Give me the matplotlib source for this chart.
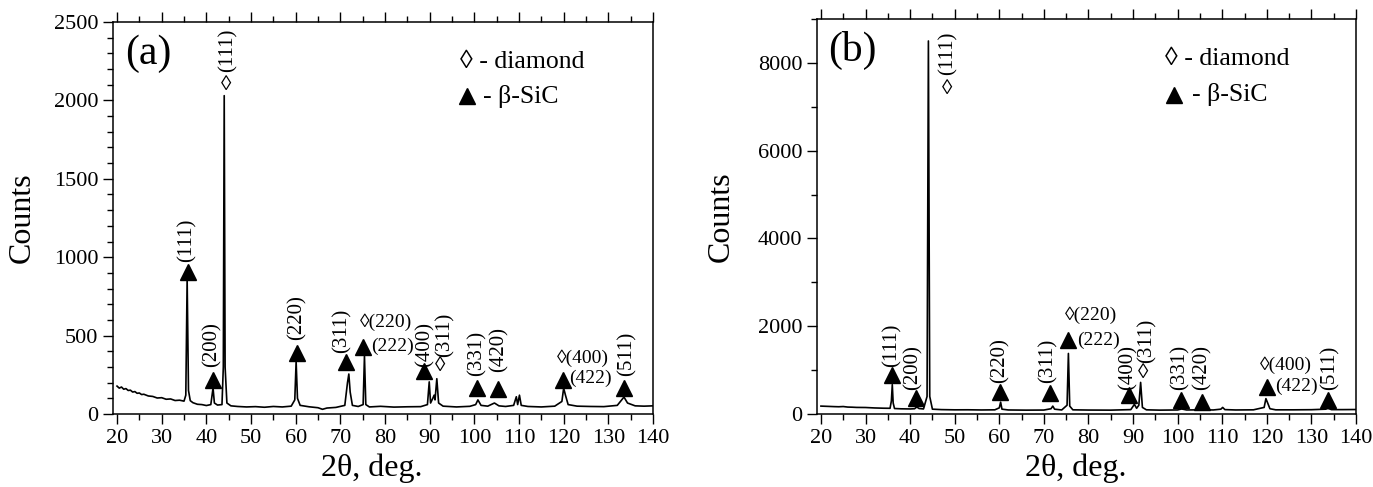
import numpy as np
import matplotlib
matplotlib.use("Agg")
import matplotlib.pyplot as plt

plt.rcParams['font.family'] = ['Liberation Serif', 'DejaVu Serif']

# ---- pattern (a): 2theta / counts ----
tt_a = [20.0, 20.5, 21.0, 21.5, 22.0, 22.5, 23.0, 23.5, 24.0, 24.5, 25.0, 25.5, 26.0, 27.0, 28.0,
        29.0, 30.0, 31.0, 32.0, 33.0, 34.0, 35.0, 35.4, 35.7, 36.0, 36.4, 37.0, 38.0, 39.0,
        40.0, 41.0, 41.5, 41.8, 42.5, 43.5, 43.8, 44.0, 44.2, 44.6, 45.5, 47.0, 49.0, 51.0,
        53.0, 55.0, 57.0, 59.0, 59.8, 60.1, 60.4, 61.0, 63.0, 65.0, 66.0, 67.0, 69.0, 71.0,
        71.6, 71.9, 72.2, 72.7, 74.0, 75.1, 75.4, 75.7, 76.5, 79.0, 82.0, 85.0, 88.0, 89.5,
        89.9, 90.2, 90.7, 91.0, 91.2, 91.6, 92.0, 93.0, 96.0, 99.0, 100.3, 100.8, 101.5, 103.0,
        104.5, 105.5, 107.0, 108.8, 109.4, 109.7, 110.1, 110.5, 112.0, 115.0, 118.0, 119.6,
        120.0, 120.4, 121.0, 123.0, 126.0, 129.0, 132.0, 133.5, 134.3, 136.0, 138.0, 140.0]
cnt_a = [178, 165, 172, 158, 162, 150, 152, 140, 143, 132, 134, 124, 126, 115, 112,
         102, 104, 94, 96, 86, 88, 82, 120, 860, 150, 85, 72, 62, 60,
         54, 60, 166, 70, 57, 60, 300, 2030, 300, 70, 52, 48, 45, 47,
         43, 48, 45, 50, 90, 335, 100, 55, 46, 40, 30, 38, 42, 55,
         200, 255, 140, 55, 48, 60, 370, 60, 45, 49, 44, 46, 47, 60,
         205, 70, 100, 120, 90, 225, 70, 50, 45, 49, 60, 90, 55, 50,
         70, 52, 48, 55, 110, 60, 120, 55, 48, 45, 50, 80,
         165, 120, 60, 50, 48, 47, 55, 108, 70, 52, 50, 52]

# ---- pattern (b) ----
tt_b = [20.0, 21.0, 22.0, 23.0, 24.0, 25.0, 26.0, 27.0, 28.0, 30.0, 32.0, 34.0, 35.5, 35.8,
        36.0, 36.2, 36.5, 38.0, 40.0, 41.0, 41.5, 42.0, 43.0, 43.8, 44.1, 44.4, 45.0, 47.0,
        50.0, 53.0, 56.0, 59.0, 60.0, 60.3, 60.6, 62.0, 66.0, 70.0, 71.6, 72.0, 72.4, 74.0,
        75.2, 75.5, 75.8, 76.5, 80.0, 85.0, 89.5, 90.3, 90.8, 91.3, 91.7, 92.1, 93.0, 96.0,
        100.0, 100.9, 102.0, 105.0, 108.0, 109.7, 110.1, 110.6, 113.0, 117.0, 119.4, 119.8,
        120.2, 120.7, 122.0, 126.0, 130.0, 133.2, 133.7, 134.5, 137.0, 140.0]
cnt_b = [180, 176, 172, 168, 165, 170, 158, 155, 150, 148, 138, 132, 130, 300,
         670, 250, 125, 118, 115, 120, 160, 125, 115, 400, 8500, 400, 110, 100,
         95, 96, 92, 95, 140, 270, 110, 92, 88, 90, 120, 180, 110, 92,
         200, 1380, 180, 95, 90, 88, 100, 220, 130, 200, 720, 150, 95, 88,
         92, 115, 92, 95, 92, 110, 150, 100, 92, 95, 150, 350,
         250, 120, 95, 95, 98, 110, 130, 100, 100, 102]

# ---- peak markers: beta-SiC triangles ----
tri_a_x = [35.8, 41.6, 60.4, 71.2, 75.1, 88.7, 100.7, 105.4, 119.9, 133.5]
tri_a_y = [908, 217, 391, 333, 430, 276, 164, 157, 217, 164]
tri_b_x = [35.9, 41.3, 60.2, 71.4, 75.5, 89.2, 100.8, 105.4, 120.0, 133.8]
tri_b_y = [889, 357, 508, 471, 1686, 433, 319, 281, 623, 319]

# vertical hkl labels (text, x, y of label bottom)
vlab_a = [("(111)", 35.6, 969), ("(200)", 41.2, 300), ("(220)", 60.2, 472),
          ("(311)", 70.3, 389), ("(400)", 88.9, 302), ("(331)", 100.6, 242),
          ("(420)", 105.6, 268), ("(511)", 134.1, 245),
          ("(111)", 44.8, 2181), ("(311)", 93.4, 365)]
vlab_b = [("(111)", 35.9, 1078), ("(200)", 40.7, 547), ("(220)", 60.2, 706),
          ("(311)", 71.0, 706), ("(400)", 88.9, 547), ("(331)", 100.5, 547),
          ("(420)", 105.4, 547), ("(511)", 134.2, 547),
          ("(111)", 48.6, 7726), ("(311)", 93.1, 1162)]

# horizontal labels (text, x left, y center)
hlab_a = [("\u25ca(220)", 74.4, 584), ("(222)", 76.9, 430),
          ("\u25ca(400)", 118.5, 357), ("(422)", 121.3, 230)]
hlab_b = [("\u25ca(220)", 74.7, 2256), ("(222)", 77.4, 1686),
          ("\u25ca(400)", 118.5, 1117), ("(422)", 121.8, 623)]

# lone diamond symbols
dia_a = [(44.4, 2098), (92.3, 302)]
dia_b = [(48.2, 7384), (92.3, 927)]


def draw(ax, tt, cnt, tri_x, tri_y, vlab, hlab, dia, ymax, ymaj, ymin, tag, leg):
    ax.plot(tt, cnt, color='black', lw=1.2)
    ax.plot(tri_x, tri_y, '^', color='black', ms=11, ls='none')
    for s, x, y in vlab:
        ax.text(x, y, s, rotation=90, ha='center', va='bottom', fontsize=15)
    for s, x, y in hlab:
        ax.text(x, y, s, ha='left', va='center', fontsize=14)
    for x, y in dia:
        ax.text(x, y, "\u25ca", ha='center', va='center', fontsize=15)

    ax.set_xlim(19.1, 140)
    ax.set_ylim(0, ymax)
    ax.set_xticks(np.arange(20, 141, 10))
    ax.set_xticks(np.arange(20, 141, 5), minor=True)
    ax.set_yticks(np.arange(0, ymax + 1, ymaj))
    ax.set_yticks(np.arange(0, ymax + 1, ymin), minor=True)
    ax.tick_params(which='both', direction='out', top=True, right=False,
                   labelsize=16, width=1.0)
    ax.tick_params(which='major', length=7)
    ax.tick_params(which='minor', length=4)
    for sp in ax.spines.values():
        sp.set_linewidth(1.1)

    ax.set_xlabel("2\u03b8, deg.", fontsize=23)
    ax.set_ylabel("Counts", fontsize=23)

    ax.text(leg[0], 0.92, tag, transform=ax.transAxes, fontsize=30,
            ha='left', va='center')
    ax.text(leg[1], leg[2], "\u25ca - diamond", transform=ax.transAxes,
            fontsize=18.5, ha='left', va='center')
    ax.plot([leg[3]], [leg[4]], '^', color='black', ms=11, transform=ax.transAxes)
    ax.text(leg[5], leg[4], "- \u03b2-SiC", transform=ax.transAxes,
            fontsize=18.5, ha='left', va='center')


fig = plt.figure(figsize=(13.73, 4.87), dpi=100)
ax1 = fig.add_axes([0.0823, 0.1499, 0.3933, 0.805])
ax2 = fig.add_axes([0.595, 0.1499, 0.3926, 0.811])

draw(ax1, tt_a, cnt_a, tri_a_x, tri_a_y, vlab_a, hlab_a, dia_a, 2500, 500, 100, "(a)",
     (0.022, 0.643, 0.899, 0.656, 0.81, 0.685))
draw(ax2, tt_b, cnt_b, tri_b_x, tri_b_y, vlab_b, hlab_b, dia_b, 9000, 2000, 1000, "(b)",
     (0.020, 0.646, 0.90, 0.662, 0.808, 0.695))

ax1.yaxis.set_label_coords(-0.142, 0.5)
ax2.yaxis.set_label_coords(-0.150, 0.5)
ax1.xaxis.set_label_coords(0.48, -0.10)
ax2.xaxis.set_label_coords(0.48, -0.10)

fig.savefig("out.png", dpi=100)
